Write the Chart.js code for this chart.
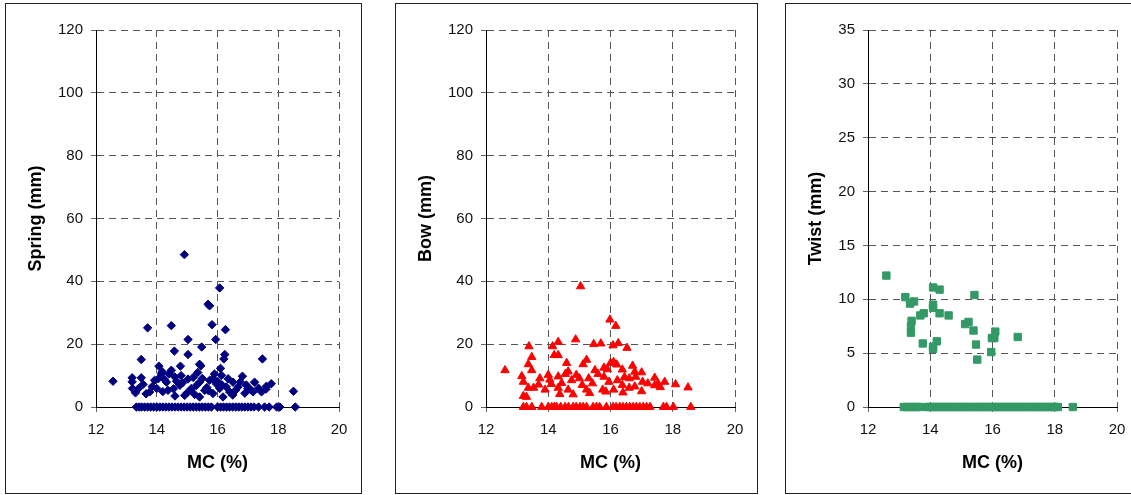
<!DOCTYPE html>
<html lang="en">
<head>
  <meta charset="UTF-8">
  <title>Warp vs MC</title>
  <script src="https://cdn.jsdelivr.net/npm/chart.js"></script>
  <style>
    body {
      margin: 0;
      background: #fff;
      width: 1131px;
      height: 495px;
      overflow: hidden;
      position: relative;
    }
    .panel {
      position: absolute;
      top: 3px;
      border: 1px solid #222;
      background: #fff;
    }
    .panel canvas {
      display: block;
    }
  </style>
</head>
<body>

<div class="panel" style="left:5px"><canvas id="springChart" width="355" height="489"></canvas></div>
<div class="panel" style="left:395px"><canvas id="bowChart" width="361" height="489"></canvas></div>
<div class="panel" style="left:785px"><canvas id="twistChart" width="353" height="489"></canvas></div>

<script>
  // Spring (mm) vs MC (%)
  const springMC = [
    14.91, 16.07, 15.69, 15.74, 13.70, 14.48, 15.82, 16.26, 15.03, 15.94,
    15.48, 14.58, 15.03, 16.24, 16.21, 13.49, 17.48, 15.41, 15.45, 14.07,
    14.78, 14.48, 14.18, 12.56, 13.19, 13.19, 13.49, 16.82, 16.13, 17.22,
    17.77, 17.61, 18.50, 13.20, 13.40, 13.93, 14.15, 14.32, 14.59, 14.76,
    15.03, 15.14, 15.41, 15.58, 15.74, 15.96, 16.07, 16.29, 16.51, 16.68,
    17.00, 13.77, 14.00, 14.37, 14.92, 15.41, 16.18, 16.40, 17.17, 17.45,
    13.30, 13.55, 13.85, 14.05, 14.25, 14.40, 14.65, 14.85, 15.20, 15.30,
    15.50, 15.65, 15.85, 16.00, 16.15, 16.35, 16.60, 16.75, 16.95, 17.10,
    17.35, 13.65, 14.20, 14.55, 15.00, 15.25, 15.85, 16.50, 17.60, 14.60,
    15.70, 16.90, 15.35, 16.10, 15.90, 14.80,
    13.33, 13.42, 13.50, 13.60, 13.70, 13.80, 13.90, 14.00, 14.10, 14.20,
    14.30, 14.40, 14.50, 14.60, 14.70, 14.80, 14.90, 15.00, 15.10, 15.20,
    15.30, 15.40, 15.50, 15.60, 15.70, 15.80, 16.00, 16.10, 16.20, 16.30,
    16.40, 16.50, 16.60, 16.70, 16.80, 16.90, 17.00, 17.10, 17.20, 17.35,
    17.55, 17.70, 17.95, 18.05, 18.56
  ];
  const springVal = [
    48.5, 37.9, 32.7, 32.2, 25.2, 25.9, 26.2, 24.6, 21.5, 21.5,
    19.1, 17.8, 16.7, 16.7, 15.3, 15.1, 15.3, 13.6, 13.1, 13.0,
    13.0, 11.7, 11.2, 8.2, 9.3, 8.0, 9.3, 9.8, 10.1, 7.9,
    7.4, 6.6, 5.0, 5.9, 5.9, 8.5, 10.6, 7.9, 9.6, 6.9,
    8.9, 5.9, 7.9, 5.3, 8.5, 7.4, 5.9, 6.4, 7.9, 6.4,
    5.9, 4.8, 5.9, 5.3, 3.7, 3.2, 3.2, 4.8, 4.8, 4.8,
    4.5, 7.2, 6.5, 9.0, 8.8, 10.5, 8.2, 7.7, 9.4, 6.8,
    9.1, 6.2, 9.0, 8.2, 7.0, 9.0, 5.4, 8.0, 7.0, 5.5,
    6.0, 4.2, 4.9, 5.8, 4.5, 4.0, 4.3, 3.8, 5.7, 3.5,
    5.2, 4.4, 11.0, 12.3, 10.5, 10.0,
    0, 0, 0, 0, 0, 0, 0, 0, 0, 0,
    0, 0, 0, 0, 0, 0, 0, 0, 0, 0,
    0, 0, 0, 0, 0, 0, 0, 0, 0, 0,
    0, 0, 0, 0, 0, 0, 0, 0, 0, 0,
    0, 0, 0, 0, 0
  ];

  // Bow (mm) vs MC (%)
  const bowMC = [
    15.04, 15.98, 16.17, 13.38, 14.32, 14.14, 14.88, 15.46, 15.69, 16.08,
    16.25, 16.53, 14.19, 14.32, 13.47, 13.36, 14.59, 15.23, 15.12, 16.00,
    16.10, 15.79, 15.50, 16.38, 16.71, 17.00, 16.78, 12.61, 13.47, 13.15,
    13.20, 13.73, 14.00, 14.05, 14.32, 14.43, 14.64, 14.90, 15.00, 15.09,
    15.30, 15.42, 15.79, 15.95, 16.22, 16.38, 16.60, 16.81, 17.03, 17.42,
    17.53, 17.74, 18.09, 18.49, 13.36, 13.20, 13.53, 13.69, 13.90, 14.32,
    14.37, 14.64, 14.80, 15.23, 15.33, 15.75, 15.85, 16.10, 16.40, 16.60,
    17.00, 16.78, 17.42, 13.30, 14.10, 14.75, 15.60, 16.45, 17.20, 17.60,
    14.55, 15.90, 16.20,
    13.20, 13.30, 13.47, 13.79, 14.00, 14.11, 14.20, 14.27, 14.40, 14.54,
    14.65, 14.80, 14.90, 15.02, 15.12, 15.23, 15.44, 15.55, 15.65, 15.87,
    16.08, 16.18, 16.30, 16.40, 16.51, 16.62, 16.73, 16.83, 16.94, 17.05,
    17.16, 17.27, 17.70, 17.80, 18.02, 18.58
  ];
  const bowVal = [
    38.4, 27.8, 25.8, 19.3, 20.7, 19.3, 21.5, 20.0, 20.2, 19.6,
    20.3, 18.8, 16.5, 16.5, 15.9, 13.6, 14.0, 15.0, 13.6, 14.0,
    14.3, 12.5, 11.7, 11.9, 13.1, 11.0, 11.2, 11.7, 11.7, 9.8,
    8.0, 9.1, 10.2, 8.7, 9.7, 7.6, 11.3, 10.2, 9.1, 7.0,
    9.1, 7.5, 9.6, 8.0, 8.5, 7.0, 9.1, 9.6, 8.0, 9.3,
    7.4, 8.0, 7.2, 6.2, 6.1, 3.5, 6.1, 7.1, 5.5, 6.1,
    4.1, 5.5, 4.0, 5.5, 4.4, 5.5, 4.9, 5.5, 4.6, 6.1,
    5.0, 6.5, 6.9, 3.2, 7.3, 8.5, 10.5, 9.5, 7.5, 6.3,
    10.5, 12.0, 13.5,
    0, 0, 0, 0, 0, 0, 0, 0, 0, 0,
    0, 0, 0, 0, 0, 0, 0, 0, 0, 0,
    0, 0, 0, 0, 0, 0, 0, 0, 0, 0,
    0, 0, 0, 0, 0, 0
  ];

  // Twist (mm) vs MC (%)
  const twistMC = [
    12.59, 14.09, 14.30, 15.42, 13.20, 13.48, 13.35, 14.09, 14.09, 14.30,
    13.79, 13.68, 14.59, 15.12, 15.23, 15.39, 13.40, 13.38, 13.38, 16.09,
    16.06, 15.98, 16.81, 13.76, 14.21, 14.09, 14.09, 15.47, 15.96, 15.51,
    13.15, 13.25, 13.35, 13.45, 13.55, 13.65,
    13.90, 14.00, 14.10, 14.20, 14.30, 14.40, 14.50, 14.60, 14.70, 14.80,
    14.90, 15.00, 15.10, 15.20, 15.30, 15.40, 15.50, 15.60, 15.70, 15.80,
    15.90, 16.00, 16.10, 16.20, 16.30, 16.40, 16.50, 16.60, 16.70, 16.80,
    16.90, 17.00, 17.10, 17.20, 17.30, 17.40, 17.50, 17.60, 17.70, 17.80,
    17.90, 18.00, 18.10, 18.58
  ];
  const twistVal = [
    12.2, 11.1, 10.9, 10.4, 10.2, 9.8, 9.6, 9.5, 9.2, 8.7,
    8.7, 8.5, 8.5, 7.7, 7.9, 7.1, 8.0, 7.5, 6.9, 7.0,
    6.4, 6.4, 6.5, 5.9, 6.1, 5.6, 5.4, 5.8, 5.1, 4.4,
    0, 0, 0, 0, 0, 0,
    0, 0, 0, 0, 0, 0, 0, 0, 0, 0,
    0, 0, 0, 0, 0, 0, 0, 0, 0, 0,
    0, 0, 0, 0, 0, 0, 0, 0, 0, 0,
    0, 0, 0, 0, 0, 0, 0, 0, 0, 0,
    0, 0, 0, 0
  ];

  const mcTicks = { min: 12, max: 20, step: 2 };

  Chart.defaults.font.family = "'Liberation Sans', Arial, sans-serif";
  Chart.defaults.color = '#111';

  function makePanel(id, xs, ys, cfg) {
    const pts = xs.map((x, i) => ({ x: x, y: ys[i] }));
    return new Chart(document.getElementById(id), {
      type: 'scatter',
      data: {
        datasets: [{
          data: pts,
          pointStyle: cfg.style,
          pointRadius: cfg.radius,
          pointHoverRadius: cfg.radius,
          backgroundColor: cfg.color,
          borderColor: cfg.color,
          borderWidth: 1,
          clip: false
        }]
      },
      options: {
        responsive: false,
        animation: false,
        events: [],
        layout: { padding: { top: 26, right: 22, left: 0, bottom: 0 } },
        plugins: { legend: { display: false }, tooltip: { enabled: false } },
        scales: {
          x: {
            type: 'linear',
            min: mcTicks.min,
            max: mcTicks.max,
            afterFit: s => { s.height = 86; },
            ticks: { stepSize: mcTicks.step, padding: 9, font: { size: 15 }, color: '#111' },
            grid: { color: '#555', tickColor: '#666', tickLength: 5, tickBorderDash: [] },
            border: { color: '#000', width: 1, dash: [7, 5] },
            title: { display: true, text: 'MC (%)', font: { size: 18, weight: 'bold' }, color: '#000',
                     padding: { top: 0, bottom: 19 } }
          },
          y: {
            min: 0,
            max: cfg.ymax,
            afterFit: s => { s.width = cfg.yw; },
            ticks: { stepSize: cfg.ystep, padding: 8, font: { size: 15 }, color: '#111' },
            grid: { color: '#555', tickColor: '#666', tickLength: 5, tickBorderDash: [] },
            border: { color: '#000', width: 1, dash: [7, 5] },
            title: { display: true, text: cfg.title, font: { size: 18, weight: 'bold' }, color: '#000',
                     padding: { top: 19, bottom: 0 } }
          }
        }
      }
    });
  }

  makePanel('springChart', springMC, springVal,
    { title: 'Spring (mm)', ymax: 120, ystep: 20, yw: 90, style: 'rectRot', radius: 4.2, color: '#000080' });
  makePanel('bowChart', bowMC, bowVal,
    { title: 'Bow (mm)', ymax: 120, ystep: 20, yw: 90, style: 'triangle', radius: 4.8, color: '#ff0000' });
  makePanel('twistChart', twistMC, twistVal,
    { title: 'Twist (mm)', ymax: 35, ystep: 5, yw: 82, style: 'rect', radius: 5.2, color: '#339966' });
</script>

</body>
</html>
